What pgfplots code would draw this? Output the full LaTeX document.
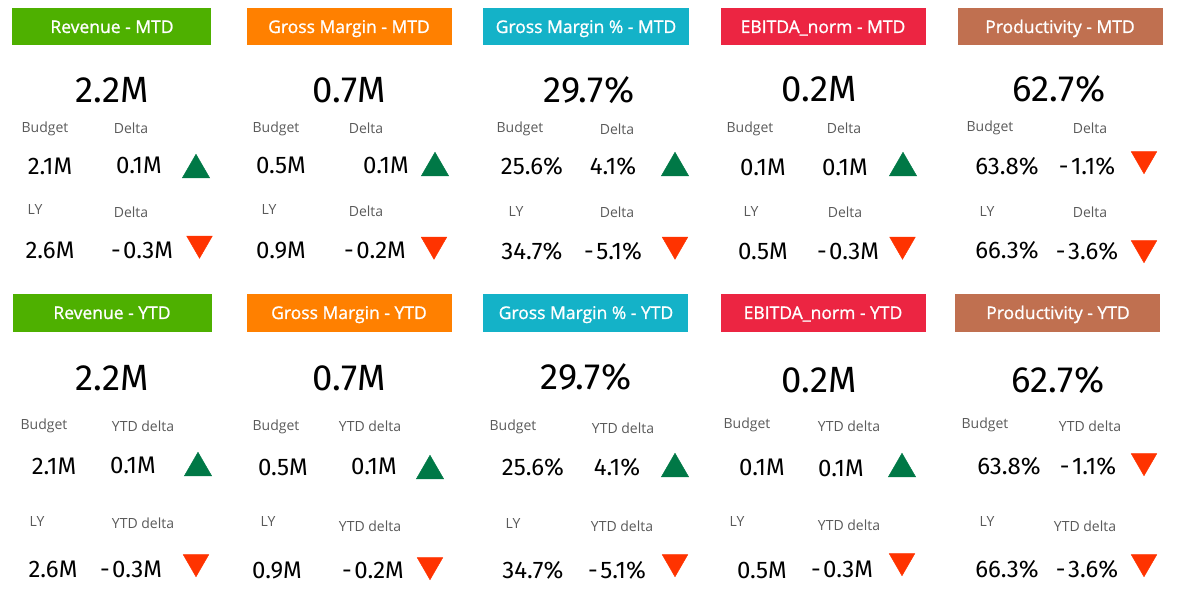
\documentclass[border=0pt]{standalone}
\usepackage{pgfplots}
\pgfplotsset{compat=1.18}
\usepackage{fontspec}
\setmainfont{Open Sans}
\newfontfamily\numf{Fira Sans}
\newfontfamily\hdrf{Open Sans}[FakeBold=1.1]
\definecolor{cgreen}{RGB}{78,176,0}
\definecolor{corange}{RGB}{255,128,0}
\definecolor{ccyan}{RGB}{20,178,200}
\definecolor{cred}{RGB}{236,37,66}
\definecolor{cbrown}{RGB}{192,112,80}
\definecolor{tup}{RGB}{0,120,70}
\definecolor{tdown}{RGB}{255,51,0}
\definecolor{lblc}{RGB}{90,90,90}
\newcommand{\mn}{-\kern2.5pt}
% header: x1 x2 y1 y2 colour xcentre baseline title
\newcommand{\hdr}[8]{\fill[#5] (axis cs:#1,#3) rectangle (axis cs:#2,#4);
  \node[text=white,inner sep=0pt,anchor=base,font=\hdrf\fontsize{17.5}{17.5}\selectfont] at (axis cs:#6,#7) {#8};}
\newcommand{\bignum}[3]{\node[inner sep=0pt,font=\numf\fontsize{36.5}{36.5}\selectfont] at (axis cs:#1,#2) {#3};}
\newcommand{\val}[3]{\node[inner sep=0pt,font=\numf\fontsize{24}{24}\selectfont] at (axis cs:#1,#2) {#3};}
\newcommand{\lbl}[3]{\node[inner sep=0pt,text=lblc,font=\fontsize{14}{14}\selectfont] at (axis cs:#1,#2) {#3};}
\begin{document}
\begin{tikzpicture}
\begin{axis}[width=1179pt,height=601pt,scale only axis,
  xmin=0,xmax=1179,ymin=0,ymax=601,y dir=reverse,
  hide axis,clip=false]
\addplot[draw=none] coordinates {(0,0) (1179,601)};
% ---- headers
\hdr{12}{211}{8}{45}{cgreen}{112}{33}{Revenue - MTD}
\hdr{247}{452}{8}{45}{corange}{349}{33}{Gross Margin - MTD}
\hdr{483}{689}{8}{45}{ccyan}{586}{33}{Gross Margin \% - MTD}
\hdr{721}{926}{8}{45}{cred}{823}{33}{EBITDA\_norm - MTD}
\hdr{958}{1163}{8}{45}{cbrown}{1060}{33}{Productivity - MTD}
\hdr{13}{212}{294}{332}{cgreen}{112}{319}{Revenue - YTD}
\hdr{247}{452}{294}{332}{corange}{349}{319}{Gross Margin - YTD}
\hdr{483}{688}{294}{332}{ccyan}{586}{319}{Gross Margin \% - YTD}
\hdr{721}{926}{294}{332}{cred}{823}{319}{EBITDA\_norm - YTD}
\hdr{955}{1160}{294}{332}{cbrown}{1058}{319}{Productivity - YTD}
% ---- big numbers
\bignum{112}{90}{2.2M}
\bignum{349}{90}{0.7M}
\bignum{589}{90}{29.7\%}
\bignum{819}{89}{0.2M}
\bignum{1059}{89}{62.7\%}
\bignum{112}{378}{2.2M}
\bignum{349}{378}{0.7M}
\bignum{586}{377}{29.7\%}
\bignum{819}{380}{0.2M}
\bignum{1058}{380}{62.7\%}
% ---- labels row 1
\lbl{45}{129}{Budget}\lbl{131}{128}{Delta}\lbl{35}{210}{LY}\lbl{131}{212}{Delta}
\lbl{276}{129}{Budget}\lbl{366}{128}{Delta}\lbl{269}{210}{LY}\lbl{366}{211}{Delta}
\lbl{520}{129}{Budget}\lbl{617}{129}{Delta}\lbl{516}{212}{LY}\lbl{617}{212}{Delta}
\lbl{750}{129}{Budget}\lbl{844}{128}{Delta}\lbl{751}{212}{LY}\lbl{845}{212}{Delta}
\lbl{990}{128}{Budget}\lbl{1090}{128}{Delta}\lbl{987}{212}{LY}\lbl{1090}{212}{Delta}
% ---- labels row 2
\lbl{44}{426}{Budget}\lbl{143}{426}{YTD delta}\lbl{37}{522}{LY}\lbl{143}{523}{YTD delta}
\lbl{276}{427}{Budget}\lbl{370}{426}{YTD delta}\lbl{268}{522}{LY}\lbl{370}{526}{YTD delta}
\lbl{513}{427}{Budget}\lbl{623}{428}{YTD delta}\lbl{513}{524}{LY}\lbl{622}{526}{YTD delta}
\lbl{747}{425}{Budget}\lbl{849}{426}{YTD delta}\lbl{737}{522}{LY}\lbl{849}{525}{YTD delta}
\lbl{985}{425}{Budget}\lbl{1090}{426}{YTD delta}\lbl{987}{522}{LY}\lbl{1085}{526}{YTD delta}
% ---- values row 1
\val{50}{166}{2.1M}\val{139}{165}{0.1M}\val{50}{250}{2.6M}\val{142}{250}{\mn0.3M}
\val{281}{165}{0.5M}\val{386}{165}{0.1M}\val{281}{250}{0.9M}\val{375}{250}{\mn0.2M}
\val{532}{166}{25.6\%}\val{613}{166}{4.1\%}\val{532}{251}{34.7\%}\val{613}{251}{\mn5.1\%}
\val{763}{167}{0.1M}\val{845}{167}{0.1M}\val{763}{251}{0.5M}\val{848}{251}{\mn0.3M}
\val{1007}{166}{63.8\%}\val{1087}{166}{\mn1.1\%}\val{1007}{250}{66.3\%}\val{1087}{251}{\mn3.6\%}
% ---- values row 2
\val{54}{466}{2.1M}\val{133}{465}{0.1M}\val{53}{569}{2.6M}\val{131}{569}{\mn0.3M}
\val{283}{467}{0.5M}\val{374}{466}{0.1M}\val{277}{570}{0.9M}\val{373}{570}{\mn0.2M}
\val{533}{467}{25.6\%}\val{617}{467}{4.1\%}\val{533}{570}{34.7\%}\val{617}{570}{\mn5.1\%}
\val{762}{467}{0.1M}\val{841}{468}{0.1M}\val{762}{570}{0.5M}\val{842}{569}{\mn0.3M}
\val{1009}{466}{63.8\%}\val{1088}{466}{\mn1.1\%}\val{1007}{569}{66.3\%}\val{1087}{569}{\mn3.6\%}
% ---- up triangles
\addplot[only marks,mark=triangle*,mark size=15.8,color=tup]
 coordinates {(196,170) (435,168) (675,168) (903,168) (198,468) (430,471) (675,469) (902,469)};
% ---- down triangles
\addplot[only marks,mark=triangle*,mark size=14.8,color=tdown,mark options={rotate=180}]
 coordinates {(199.5,243.5) (434,244.5) (675,244.5) (902.5,244.5) (1144,159) (1144,248)
              (196,562) (430,565) (675,562) (902,561) (1144,461) (1144,562)};
\end{axis}
\end{tikzpicture}
\end{document}
